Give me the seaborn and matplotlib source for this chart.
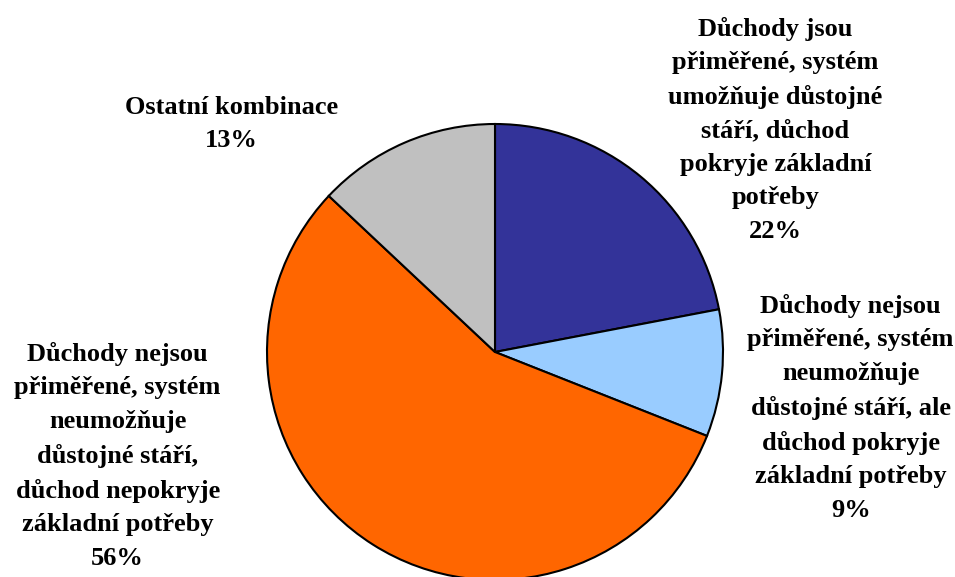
import matplotlib
matplotlib.use("Agg")
import matplotlib.pyplot as plt
import seaborn as sns

sns.set_style("white")
plt.rcParams["font.family"] = ["Liberation Serif", "DejaVu Serif"]

# data
labels = [
    "Důchody jsou\npřiměřené, systém\numožňuje důstojné\nstáří, důchod\npokryje základní\npotřeby",
    "Důchody nejsou\npřiměřené, systém\nneumožňuje\ndůstojné stáří, ale\ndůchod pokryje\nzákladní potřeby",
    "Důchody nejsou\npřiměřené, systém\nneumožňuje\ndůstojné stáří,\ndůchod nepokryje\nzákladní potřeby",
    "Ostatní kombinace",
]
shares = [22, 9, 56, 13]
colors = ["#333399", "#99CCFF", "#FF6600", "#C0C0C0"]

# label centres in axes data units (pie radius = 1)
label_pos = [(1.23, 0.975), (1.56, -0.245), (-1.655, -0.455), (-1.155, 1.0)]

W, H = 955, 577
cx, cy, r = 495, 225, 228

fig = plt.figure(figsize=(W / 100, H / 100), dpi=100)
ax = fig.add_axes([(cx - r) / W, (cy - r) / H, 2 * r / W, 2 * r / H])

ax.pie(
    shares,
    colors=colors,
    startangle=90,
    counterclock=False,
    wedgeprops={"edgecolor": "black", "linewidth": 1.5},
)
ax.set_xlim(-1, 1)
ax.set_ylim(-1, 1)
ax.set_aspect("equal")
ax.axis("off")

for lab, val, (x, y) in zip(labels, shares, label_pos):
    ax.text(
        x, y, f"{lab}\n{val}%",
        ha="center", va="center", color="black",
        fontsize=19, fontweight="bold",
        linespacing=1.58, clip_on=False,
    )

fig.savefig("out.png", dpi=100)
